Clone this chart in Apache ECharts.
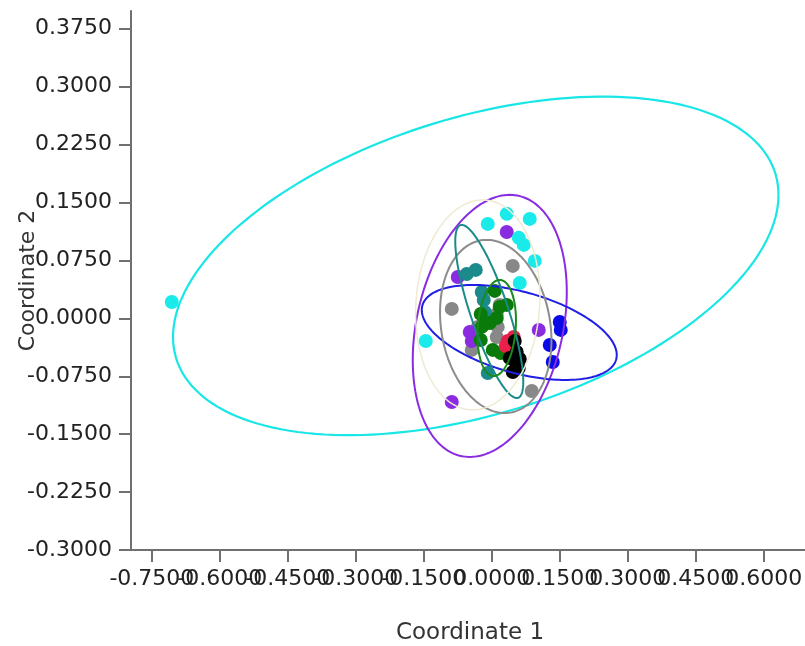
<!DOCTYPE html>
<html>
<head>
<meta charset="utf-8">
<script src="https://cdn.jsdelivr.net/npm/echarts@6/dist/echarts.min.js"></script>
<style>
html,body{margin:0;padding:0;background:#fff;overflow:hidden;width:805px;height:646px;}
#c{width:810px;height:646px;}
</style>
</head>
<body>
<div id="c"></div>
<script>
// ---- axis ranges and tick labels ----
const xMin = -0.796, xMax = 0.7;
const yMin = -0.3, yMax = 0.398;
const xTicks = [-0.75, -0.6, -0.45, -0.3, -0.15, 0, 0.15, 0.3, 0.45, 0.6];
const yTicks = [-0.3, -0.225, -0.15, -0.075, 0, 0.075, 0.15, 0.225, 0.3, 0.375];

// ---- groups (points) ----
const cyanPts = [[-0.706,0.0212],[-0.0088,0.1223],[0.0331,0.1353],[0.0838,0.1288],[0.0596,0.1042],[0.0706,0.0951],[0.0949,0.0744],[0.0618,0.0459],[-0.1456,-0.0293]];
const purplePts = [[0.0331,0.1119],[-0.075,0.0536],[-0.0882,-0.1083],[0.1037,-0.015],[-0.0485,-0.0176],[-0.0441,-0.0293]];
const bluePts = [[0.15,-0.0047],[0.1522,-0.015],[0.128,-0.0345],[0.1346,-0.0565]];
const tealPts = [[-0.0552,0.0575],[-0.0353,0.0627],[-0.0221,0.0342],[-0.0176,0.0238],[-0.0154,0.0083],[-0.0132,-0.0047],[-0.0088,-0.0707]];
const greenPts = [[0.0066,0.0355],[0.0176,0.0148],[0.0331,0.0174],[-0.0243,0.0057],[-0.0221,-0.0111],[-0.0243,-0.028],[0.0022,-0.0409],[0.0199,-0.0448],[-0.0044,-0.006],[0.011,0.0005]];
const grayPts = [[0.0463,0.0679],[-0.0882,0.0122],[-0.0309,-0.0111],[0.011,0.0057],[0.0132,-0.0111],[0.011,-0.0241],[-0.0441,-0.0409],[0.0882,-0.0941],[0.0176,0.0174]];
const redPts = [[0.0353,-0.0293],[0.0485,-0.0241],[0.0309,-0.0358]];
const blackPts = [[0.0507,-0.0293],[0.0397,-0.0513],[0.0529,-0.0565],[0.0596,-0.0643],[0.0463,-0.0694],[0.0618,-0.0526],[0.0551,-0.0435]];

// ---- ellipses: centre and two conjugate semi-axis vectors (data units) ----
const ellipseCenters = [[-0.0353,0.0679],[-0.0044,-0.0098],[0.0607,-0.0183],[0.0088,-0.0105],[-0.0055,0.0089],[0.011,-0.0125],[-0.0309,0.0174]];
const ellipseU = [[0.668,0.092],[0.0441,0.1697],[0.2151,-0.0291],[-0.0199,0.1121],[-0.0607,0.1121],[0.0066,0.0622],[0.011,0.136]];
const ellipseV = [[0,-0.199],[0.1641,0],[0,0.0542],[0.1213,0],[0.0441,0],[0.0419,0],[0.1367,0]];
const ellipseColors = ['#19e6e6','#8a2be2','#1e1ee6','#8c8c8c','#1a8a8a','#1a8a1a','#efead2'];
const ellipseWidths = [2.2,2,2,2,2,2,1.5];

const pointGroups = [
  {data: grayPts, color:'#888888'},
  {data: purplePts, color:'#8a2be2'},
  {data: cyanPts, color:'#1aeaea'},
  {data: bluePts, color:'#0a0ae8'},
  {data: tealPts, color:'#1a8a8a'},
  {data: greenPts, color:'#0a7a0a'},
  {data: redPts, color:'#e8204a'},
  {data: blackPts, color:'#000000'}
];

const series = [];
pointGroups.forEach(g => {
  series.push({type:'scatter', data:g.data, symbolSize:14, itemStyle:{color:g.color, opacity:1}, z:2, silent:true});
});
ellipseCenters.forEach((c, i) => {
  series.push({
    type:'custom', z:3, silent:true,
    data:[[c[0], c[1]]],
    renderItem: function(params, api){
      const u = ellipseU[i], v = ellipseV[i];
      const pts = [];
      for (let k = 0; k <= 180; k++) {
        const t = k / 180 * Math.PI * 2;
        pts.push(api.coord([c[0] + u[0]*Math.cos(t) + v[0]*Math.sin(t), c[1] + u[1]*Math.cos(t) + v[1]*Math.sin(t)]));
      }
      return {type:'polyline', shape:{points:pts}, style:{fill:null, stroke:ellipseColors[i], lineWidth:ellipseWidths[i]}};
    }
  });
});

// the axis ends are added as (hidden) first/last entries so the overlapping labels all stay visible
const xTickValues = [xMin].concat(xTicks, [xMax]);

const fontFam = '"DejaVu Sans", sans-serif';
const chart = echarts.init(document.getElementById('c'), null, {renderer:'canvas'});
chart.setOption({
  animation:false,
  backgroundColor:'#ffffff',
  grid:{left:131, right:1, top:11, bottom:96, containLabel:false, outerBoundsMode:'none'},
  xAxis:{
    type:'value', min:xMin, max:xMax,
    name:'Coordinate 1', nameLocation:'middle', nameGap:72, nameMoveOverlap:false,
    nameTextStyle:{fontFamily:fontFam, fontSize:23, color:'#333'},
    axisLine:{show:true, onZero:false, lineStyle:{color:'#707070', width:2}},
    axisTick:{show:true, length:12, lineStyle:{color:'#707070', width:2}, customValues:xTickValues},
    axisLabel:{show:true, margin:18, fontFamily:fontFam, fontSize:22, color:'#222', customValues:xTickValues,
      formatter:v=> (v === xMin || v === xMax) ? '' : v.toFixed(4), hideOverlap:false, showMinLabel:false, showMaxLabel:false},
    splitLine:{show:false}
  },
  yAxis:{
    type:'value', min:yMin, max:yMax,
    name:'Coordinate 2', nameLocation:'middle', nameGap:92, nameMoveOverlap:false,
    nameTextStyle:{fontFamily:fontFam, fontSize:22, color:'#333'},
    axisLine:{show:true, onZero:false, lineStyle:{color:'#707070', width:2}},
    axisTick:{show:true, length:12, lineStyle:{color:'#707070', width:2}, customValues:yTicks},
    axisLabel:{show:true, margin:19, fontFamily:fontFam, fontSize:22, color:'#222', customValues:yTicks, formatter:v=>v.toFixed(4), hideOverlap:false, showMinLabel:true, showMaxLabel:true},
    splitLine:{show:false}
  },
  series: series
});
</script>
</body>
</html>
